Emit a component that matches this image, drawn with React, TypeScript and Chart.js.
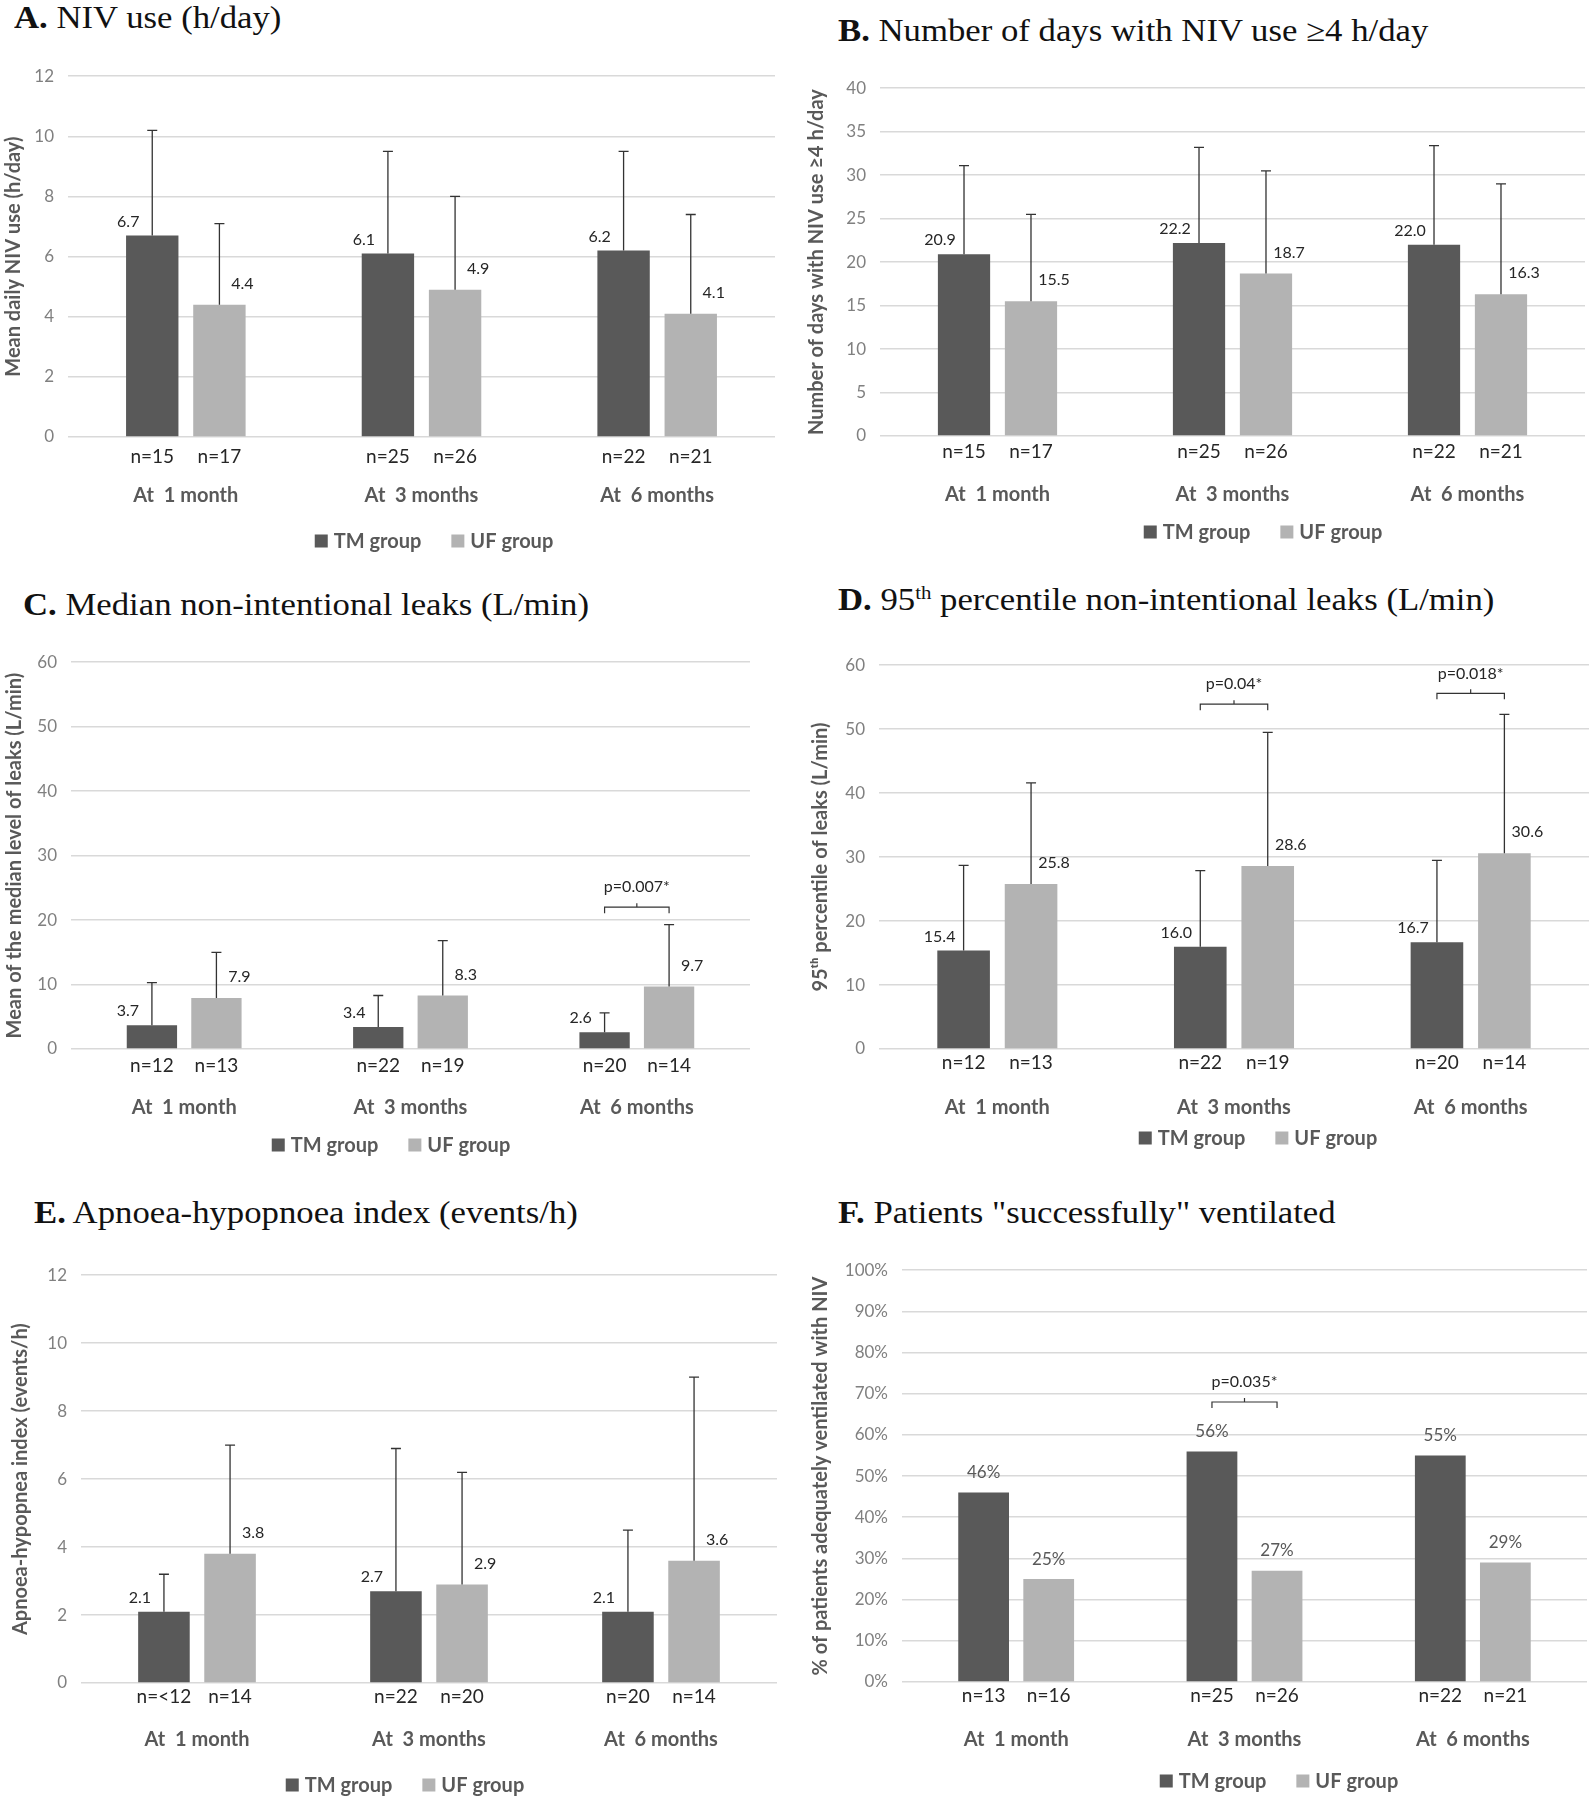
import React, { useEffect, useRef } from 'react';
import { Chart, registerables } from 'chart.js';

Chart.register(...registerables);
Chart.defaults.font.family = "Lato, 'Noto Sans', sans-serif";

// ---------- data ----------
const CATEGORIES = ['At  1 month', 'At  3 months', 'At  6 months'];
const SERIES_NAMES = ['TM group', 'UF group'];

// A. NIV use (h/day)
const useHoursTM = [6.7, 6.1, 6.2];
const useHoursUF = [4.4, 4.9, 4.1];
const useHoursSdTM = [3.5, 3.4, 3.3];
const useHoursSdUF = [2.7, 3.1, 3.3];
const nUseTM = ['15', '25', '22'];
const nUseUF = ['17', '26', '21'];

// B. Days with NIV use >= 4 h/day
const daysTM = [20.9, 22.2, 22.0];
const daysUF = [15.5, 18.7, 16.3];
const daysSdTM = [10.2, 11.0, 11.4];
const daysSdUF = [10.0, 11.8, 12.7];

// C. Median non-intentional leaks
const medLeakTM = [3.7, 3.4, 2.6];
const medLeakUF = [7.9, 8.3, 9.7];
const medLeakSdTM = [6.6, 4.9, 3.0];
const medLeakSdUF = [7.1, 8.5, 9.6];
const nLeakTM = ['12', '22', '20'];
const nLeakUF = ['13', '19', '14'];

// D. 95th percentile non-intentional leaks
const p95LeakTM = [15.4, 16.0, 16.7];
const p95LeakUF = [25.8, 28.6, 30.6];
const p95LeakSdTM = [13.3, 11.9, 12.8];
const p95LeakSdUF = [15.8, 20.9, 21.7];

// E. Apnoea-hypopnoea index
const ahiTM = [2.1, 2.7, 2.1];
const ahiUF = [3.8, 2.9, 3.6];
const ahiSdTM = [1.1, 4.2, 2.4];
const ahiSdUF = [3.2, 3.3, 5.4];
const nAhiTM = ['<12', '22', '20'];
const nAhiUF = ['14', '20', '14'];

// F. Patients successfully ventilated (%)
const successTM = [46, 56, 55];
const successUF = [25, 27, 29];
const nSuccessTM = ['13', '25', '22'];
const nSuccessUF = ['16', '26', '21'];

// significance annotations: category index, y value of bracket, text
const annotC = [{ cat: 2, y: 22, text: 'p=0.007*' }];
const annotD = [
  { cat: 1, y: 53.9, text: 'p=0.04*' },
  { cat: 2, y: 55.6, text: 'p=0.018*' },
];
const annotF = [{ cat: 1, y: 68, text: 'p=0.035*' }];

// ---------- styles ----------
const TM_COLOR = '#595959';
const UF_COLOR = '#b3b3b3';
const GRID_COLOR = '#d9d9d9';
const AXIS_TEXT = '#595959';
const TICK_TEXT = '#808080';
const FONT = "Lato, 'Noto Sans', sans-serif";
const YTITLE_SIZE = 20;

type Annot = { cat: number; y: number; text: string };
type PanelCfg = {
  letter: string;
  title: React.ReactNode;
  yTitle: string;
  tm: number[];
  uf: number[];
  sdTM?: number[];
  sdUF?: number[];
  nTM: string[];
  nUF: string[];
  yMax: number;
  yStep: number;
  percent?: boolean;
  annots?: Annot[];
  area: { l: number; r: number; t: number; b: number };
  titleX: number;
  titleY: number;
  yTitleX: number;
  nY: number;
  catY: number;
  legendY: number;
  legendCX: number;
};

const panels: PanelCfg[] = [
  {
    letter: 'A.',
    title: <> NIV use (h/day)</>,
    yTitle: 'Mean daily NIV use (h/day)',
    tm: useHoursTM, uf: useHoursUF, sdTM: useHoursSdTM, sdUF: useHoursSdUF,
    nTM: nUseTM, nUF: nUseUF, yMax: 12, yStep: 2,
    area: { l: 68, r: 775, t: 76, b: 437 },
    titleX: 14, titleY: 18, yTitleX: 14, nY: 457, catY: 496, legendY: 541, legendCX: 434,
  },
  {
    letter: 'B.',
    title: <> Number of days with NIV use ≥4 h/day</>,
    yTitle: 'Number of days with NIV use ≥4 h/day',
    tm: daysTM, uf: daysUF, sdTM: daysSdTM, sdUF: daysSdUF,
    nTM: nUseTM, nUF: nUseUF, yMax: 40, yStep: 5,
    area: { l: 880, r: 1585, t: 88, b: 436 },
    titleX: 838, titleY: 31, yTitleX: 817, nY: 452, catY: 495, legendY: 532, legendCX: 1263,
  },
  {
    letter: 'C.',
    title: <> Median non-intentional leaks (L/min)</>,
    yTitle: 'Mean of the median level of leaks (L/min)',
    tm: medLeakTM, uf: medLeakUF, sdTM: medLeakSdTM, sdUF: medLeakSdUF,
    nTM: nLeakTM, nUF: nLeakUF, yMax: 60, yStep: 10, annots: annotC,
    area: { l: 71, r: 750, t: 662, b: 1049 },
    titleX: 23, titleY: 605, yTitleX: 15, nY: 1066, catY: 1108, legendY: 1145, legendCX: 391,
  },
  {
    letter: 'D.',
    title: (
      <>
        {' '}95<sup style={{ fontSize: '0.6em', lineHeight: 0 }}>th</sup> percentile non-intentional leaks (L/min)
      </>
    ),
    yTitle: '95ᵗʰ percentile of leaks (L/min)',
    tm: p95LeakTM, uf: p95LeakUF, sdTM: p95LeakSdTM, sdUF: p95LeakSdUF,
    nTM: nLeakTM, nUF: nLeakUF, yMax: 60, yStep: 10, annots: annotD,
    area: { l: 879, r: 1589, t: 665, b: 1049 },
    titleX: 838, titleY: 600, yTitleX: 821, nY: 1063, catY: 1108, legendY: 1138, legendCX: 1258,
  },
  {
    letter: 'E.',
    title: <> Apnoea-hypopnoea index (events/h)</>,
    yTitle: 'Apnoea-hypopnea index (events/h)',
    tm: ahiTM, uf: ahiUF, sdTM: ahiSdTM, sdUF: ahiSdUF,
    nTM: nAhiTM, nUF: nAhiUF, yMax: 12, yStep: 2,
    area: { l: 81, r: 777, t: 1275, b: 1683 },
    titleX: 34, titleY: 1213, yTitleX: 21, nY: 1697, catY: 1740, legendY: 1785, legendCX: 405,
  },
  {
    letter: 'F.',
    title: <> Patients "successfully" ventilated</>,
    yTitle: '% of patients adequately ventilated with NIV',
    tm: successTM, uf: successUF,
    nTM: nSuccessTM, nUF: nSuccessUF, yMax: 100, yStep: 10, percent: true, annots: annotF,
    area: { l: 902, r: 1587, t: 1270, b: 1682 },
    titleX: 838, titleY: 1213, yTitleX: 821, nY: 1696, catY: 1740, legendY: 1781, legendCX: 1279,
  },
];

function Panel({ cfg }: { cfg: PanelCfg }) {
  const ref = useRef<HTMLCanvasElement | null>(null);
  const cLeft = cfg.yTitleX - Math.round(YTITLE_SIZE * 0.6);
  const cTop = cfg.area.t - 24;
  const cRight = Math.min(1589, cfg.area.r + 4);
  const cBottom = cfg.legendY + 18;
  const W = cRight - cLeft;
  const H = cBottom - cTop;

  useEffect(() => {
    if (!ref.current) return;
    const sds = [cfg.sdTM, cfg.sdUF];
    const ns = [cfg.nTM, cfg.nUF];

    const overlay = {
      id: 'overlay',
      afterDatasetsDraw(chart: any) {
        const ctx = chart.ctx as CanvasRenderingContext2D;
        const ys = chart.scales.y;
        chart.data.datasets.forEach((ds: any, di: number) => {
          const meta = chart.getDatasetMeta(di);
          meta.data.forEach((bar: any, i: number) => {
            const v = ds.data[i] as number;
            const sd = sds[di];
            ctx.save();
            if (sd) {
              const top = ys.getPixelForValue(v + sd[i]);
              ctx.strokeStyle = '#333333';
              ctx.lineWidth = 1.3;
              ctx.beginPath();
              ctx.moveTo(bar.x, bar.y);
              ctx.lineTo(bar.x, top);
              ctx.moveTo(bar.x - 5, top);
              ctx.lineTo(bar.x + 5, top);
              ctx.stroke();
            }
            // value label
            ctx.textAlign = 'center';
            ctx.textBaseline = 'middle';
            if (cfg.percent) {
              ctx.font = `17px ${FONT}`;
              ctx.fillStyle = AXIS_TEXT;
              ctx.fillText(`${v}%`, bar.x, bar.y - 20);
            } else {
              ctx.font = `16px ${FONT}`;
              ctx.fillStyle = '#262626';
              const dx = di === 0 ? -24 : 23;
              const dy = di === 0 ? -14 : -21;
              ctx.fillText(v.toFixed(1), bar.x + dx, bar.y + dy);
            }
            // n label
            ctx.font = `19px ${FONT}`;
            ctx.fillStyle = '#262626';
            ctx.fillText(`n=${ns[di][i]}`, bar.x, cfg.nY - cTop);
            ctx.restore();
          });
        });
        // significance brackets
        (cfg.annots || []).forEach((a) => {
          const b0 = chart.getDatasetMeta(0).data[a.cat];
          const b1 = chart.getDatasetMeta(1).data[a.cat];
          const yy = ys.getPixelForValue(a.y);
          const x0 = b0.x;
          const x1 = b1.x;
          const xm = (x0 + x1) / 2;
          ctx.save();
          ctx.strokeStyle = '#333333';
          ctx.lineWidth = 1.2;
          ctx.beginPath();
          ctx.moveTo(x0, yy + 6);
          ctx.lineTo(x0, yy);
          ctx.lineTo(x1, yy);
          ctx.lineTo(x1, yy + 6);
          ctx.moveTo(xm, yy);
          ctx.lineTo(xm, yy - 4);
          ctx.stroke();
          ctx.font = `16px ${FONT}`;
          ctx.fillStyle = '#262626';
          ctx.textAlign = 'center';
          ctx.textBaseline = 'middle';
          ctx.fillText(a.text, xm, yy - 20);
          ctx.restore();
        });
      },
      afterDraw(chart: any) {
        const ctx = chart.ctx as CanvasRenderingContext2D;
        ctx.save();
        ctx.font = `bold 20px ${FONT}`;
        ctx.textBaseline = 'middle';
        ctx.textAlign = 'left';
        const box = 13;
        const gapBox = 6;
        const gapItem = 30;
        const widths = SERIES_NAMES.map((s) => ctx.measureText(s).width);
        const total = widths.reduce((s, w) => s + box + gapBox + w, 0) + gapItem;
        let x = cfg.legendCX - cLeft - total / 2;
        const y = cfg.legendY - cTop;
        const colors = [TM_COLOR, UF_COLOR];
        SERIES_NAMES.forEach((s, i) => {
          ctx.fillStyle = colors[i];
          ctx.fillRect(x, y - box / 2, box, box);
          x += box + gapBox;
          ctx.fillStyle = AXIS_TEXT;
          ctx.fillText(s, x, y + 1);
          x += widths[i] + gapItem;
        });
        ctx.restore();
      },
    };

    const catFont = 20;
    const chart = new Chart(ref.current, {
      type: 'bar',
      data: {
        labels: CATEGORIES,
        datasets: [
          { label: SERIES_NAMES[0], data: cfg.tm, backgroundColor: TM_COLOR, barPercentage: 0.78, categoryPercentage: 0.57 },
          { label: SERIES_NAMES[1], data: cfg.uf, backgroundColor: UF_COLOR, barPercentage: 0.78, categoryPercentage: 0.57 },
        ],
      },
      options: {
        responsive: false,
        maintainAspectRatio: false,
        animation: false,
        layout: { padding: { left: 0, top: 24, right: cRight - cfg.area.r, bottom: 0 } },
        plugins: { legend: { display: false }, tooltip: { enabled: false }, title: { display: false } },
        scales: {
          x: {
            grid: { display: false, drawTicks: false },
            border: { display: false },
            ticks: {
              color: AXIS_TEXT,
              font: { size: catFont, weight: 'bold' },
              padding: cfg.catY - cfg.area.b - catFont * 0.6,
              maxRotation: 0,
              autoSkip: false,
            },
            afterFit: (s: any) => {
              s.height = cBottom - cfg.area.b;
            },
          },
          y: {
            min: 0,
            max: cfg.yMax,
            grid: { color: GRID_COLOR, lineWidth: 1.6, drawTicks: false },
            border: { display: false },
            ticks: {
              stepSize: cfg.yStep,
              color: TICK_TEXT,
              font: { size: 17 },
              padding: 14,
              callback: (v: any) => (cfg.percent ? `${v}%` : `${v}`),
            },
            title: {
              display: true,
              text: cfg.yTitle,
              color: AXIS_TEXT,
              font: { size: YTITLE_SIZE, weight: 'bold' },
              padding: { top: 0, bottom: 0 },
            },
            afterFit: (s: any) => {
              s.width = cfg.area.l - cLeft;
            },
          },
        },
      },
      plugins: [overlay],
    } as any);
    return () => chart.destroy();
  }, [cfg]);

  return (
    <>
      <div
        style={{
          position: 'absolute',
          left: cfg.titleX,
          top: cfg.titleY - 20,
          height: 40,
          lineHeight: '40px',
          fontFamily: "'Liberation Serif', 'Times New Roman', serif",
          fontSize: 31,
          color: '#111',
          whiteSpace: 'nowrap',
          transform: 'scaleX(1.12)',
          transformOrigin: 'left center',
        }}
      >
        <b>{cfg.letter}</b>
        {cfg.title}
      </div>
      <canvas
        ref={ref}
        width={W}
        height={H}
        style={{ position: 'absolute', left: cLeft, top: cTop, width: W, height: H }}
      />
    </>
  );
}

export default function App() {
  return (
    <div style={{ position: 'absolute', left: 0, top: 0, width: 1589, height: 1800, background: '#fff', overflow: 'hidden' }}>
      {panels.map((p) => (
        <Panel key={p.letter} cfg={p} />
      ))}
    </div>
  );
}
